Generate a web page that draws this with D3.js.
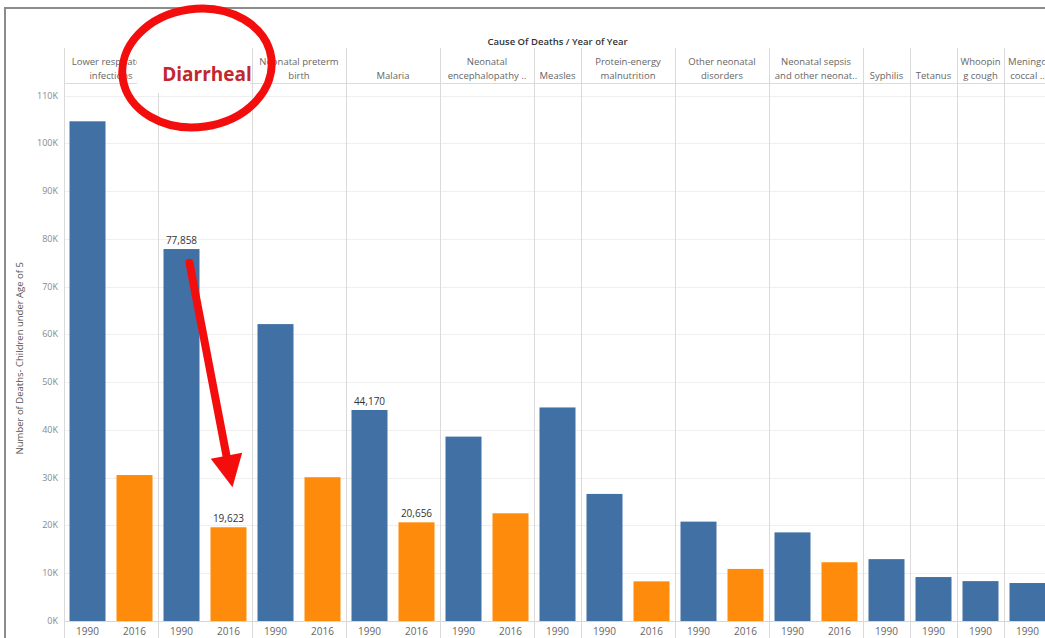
<!DOCTYPE html>
<html>
<head>
<meta charset="utf-8">
<script src="https://cdn.jsdelivr.net/npm/d3@7"></script>
<style>
  html, body { margin: 0; padding: 0; background: #fff; }
  svg { display: block; font-family: "Open Sans", "DejaVu Sans", sans-serif; }
</style>
</head>
<body>
<div id="chart"></div>
<script>
// cause of death, header lines as shown in the Tableau pane headers
var causes = [
  "Lower respiratory infections", "Diarrheal", "Neonatal preterm birth", "Malaria",
  "Neonatal encephalopathy", "Measles", "Protein-energy malnutrition",
  "Other neonatal disorders", "Neonatal sepsis and other neonatal", "Syphilis",
  "Tetanus", "Whooping cough", "Meningococcal"
];
var headerLines = [
  ["Lower respiratory", "infections"], [""], ["Neonatal preterm", "birth"], ["Malaria"],
  ["Neonatal", "encephalopathy .."], ["Measles"], ["Protein-energy", "malnutrition"],
  ["Other neonatal", "disorders"], ["Neonatal sepsis", "and other neonat.."], ["Syphilis"],
  ["Tetanus"], ["Whoopin", "g cough"], ["Meningo", "coccal .."]
];
var years = ["1990", "2016"];
var deaths1990 = [104600, 77858, 62150, 44170, 38600, 44700, 26600, 20800, 18550, 12950, 9200, 8350, 7950];
var deaths2016 = [30550, 19623, 30100, 20656, 22550, null, 8300, 10900, 12300, null, null, null, null];
var labelled = ["Diarrheal", "Malaria"];
var yTicks = [0, 10000, 20000, 30000, 40000, 50000, 60000, 70000, 80000, 90000, 100000, 110000];

var width = 1045, height = 638;
var plotLeft = 64, slotWidth = 47, yZero = 621, yTop = 95.5;
var blue = "#4170a4", orange = "#ff8b0c";

// one entry per bar, in the order Tableau lays them out
var bars = [];
causes.forEach(function (cause, i) {
  [deaths1990[i], deaths2016[i]].forEach(function (v, j) {
    if (v != null) bars.push({ cause: cause, year: years[j], value: v, key: cause + "|" + years[j] });
  });
});

var svg = d3.select("#chart").append("svg").attr("width", width).attr("height", height);

var x = d3.scaleBand()
  .domain(bars.map(function (d) { return d.key; }))
  .range([plotLeft, plotLeft + bars.length * slotWidth])
  .paddingInner(0.234)
  .paddingOuter(0.117);
var y = d3.scaleLinear().domain([0, 110000]).range([yZero, yTop]);

// pane extents per cause
var panes = causes.map(function (cause, i) {
  var own = bars.filter(function (b) { return b.cause === cause; });
  var x0 = x(own[0].key) - x.step() * x.paddingOuter();
  return { cause: cause, lines: headerLines[i], x0: x0, x1: x0 + own.length * x.step() };
});

// frame
svg.append("rect").attr("x", 5).attr("y", 8).attr("width", width + 20).attr("height", height + 20)
  .attr("fill", "none").attr("stroke", "#8c8c8c").attr("stroke-width", 2);

// gridlines
svg.append("g").selectAll("line").data(yTicks.slice(1)).enter().append("line")
  .attr("x1", plotLeft).attr("x2", width)
  .attr("y1", function (d) { return Math.round(y(d)) + 0.5; })
  .attr("y2", function (d) { return Math.round(y(d)) + 0.5; })
  .attr("stroke", "#efefef");

// header separator and baseline
svg.append("line").attr("x1", plotLeft).attr("x2", width).attr("y1", 83.5).attr("y2", 83.5).attr("stroke", "#dcdcdc");
svg.append("line").attr("x1", plotLeft).attr("x2", width).attr("y1", yZero + 0.5).attr("y2", yZero + 0.5).attr("stroke", "#d6d6d6");

// pane separators
var seps = [plotLeft].concat(panes.map(function (p) { return p.x1; }));
svg.append("g").selectAll("line").data(seps).enter().append("line")
  .attr("x1", function (d) { return Math.round(d) + 0.5; })
  .attr("x2", function (d) { return Math.round(d) + 0.5; })
  .attr("y1", 48).attr("y2", height)
  .attr("stroke", "#dadada");

// bars
svg.append("g").selectAll("rect").data(bars).enter().append("rect")
  .attr("x", function (d) { return x(d.key); })
  .attr("width", x.bandwidth())
  .attr("y", function (d) { return y(d.value); })
  .attr("height", function (d) { return yZero - y(d.value); })
  .attr("fill", function (d) { return d.year === "1990" ? blue : orange; });

// value labels
var fmt = d3.format(",");
svg.append("g").selectAll("text")
  .data(bars.filter(function (d) { return labelled.indexOf(d.cause) >= 0; }))
  .enter().append("text")
  .attr("x", function (d) { return x(d.key) + x.bandwidth() / 2; })
  .attr("y", function (d) { return y(d.value) - 5; })
  .attr("text-anchor", "middle").attr("font-size", 10).attr("fill", "#333")
  .text(function (d) { return fmt(d.value); });

// x labels
svg.append("g").selectAll("text").data(bars).enter().append("text")
  .attr("x", function (d) { return x(d.key) + x.bandwidth() / 2; })
  .attr("y", 635)
  .attr("text-anchor", "middle").attr("font-size", 10).attr("fill", "#666")
  .text(function (d) { return d.year; });

// y axis
svg.append("g").selectAll("text").data(yTicks).enter().append("text")
  .attr("x", 58).attr("y", function (d) { return y(d) + 3; })
  .attr("text-anchor", "end").attr("font-size", 9).attr("fill", "#888")
  .text(function (d) { return d / 1000 + "K"; });
svg.append("text")
  .attr("transform", "translate(23," + y(55000) + ") rotate(-90)")
  .attr("text-anchor", "middle").attr("font-size", 9.5).attr("fill", "#555")
  .text("Number of Deaths- Children under Age of 5");

// header
svg.append("text").attr("x", (plotLeft + panes[panes.length - 1].x1) / 2).attr("y", 45)
  .attr("text-anchor", "middle").attr("font-size", 9.5).attr("font-weight", 600).attr("fill", "#333")
  .text("Cause Of Deaths  /  Year of Year");
var heads = svg.append("g").selectAll("text").data(panes).enter().append("text")
  .attr("text-anchor", "middle").attr("font-size", 9.5).attr("fill", "#666");
heads.each(function (p) {
  var t = d3.select(this);
  var n = p.lines.length;
  p.lines.forEach(function (line, k) {
    t.append("tspan").attr("x", (p.x0 + p.x1) / 2).attr("y", 79 - (n - 1 - k) * 14).text(line);
  });
});

// annotation: highlight Diarrheal
var dPane = panes[1];
var cx = (dPane.x0 + dPane.x1) / 2;
svg.append("rect").attr("x", dPane.x0 - 21).attr("y", 44).attr("width", dPane.x1 - dPane.x0 + 19).attr("height", 49).attr("fill", "#fff");
svg.append("text").attr("x", cx + 2).attr("y", 81)
  .attr("text-anchor", "middle").attr("font-size", 19).attr("font-weight", "bold")
  .attr("fill", "#c4262e").text("Diarrheal");
svg.append("ellipse").attr("cx", cx - 8).attr("cy", 68).attr("rx", 75).attr("ry", 59)
  .attr("transform", "rotate(-8," + (cx - 8) + ",68)")
  .attr("fill", "none").attr("stroke", "#f40d0d").attr("stroke-width", 8);

// annotation: arrow from 1990 to 2016
var b90 = bars.filter(function (b) { return b.key === "Diarrheal|1990"; })[0];
var b16 = bars.filter(function (b) { return b.key === "Diarrheal|2016"; })[0];
var x0 = x(b90.key) + x.bandwidth() / 2 + 8, y0 = y(b90.value) + 14;
var x1 = x(b16.key) + x.bandwidth() / 2 + 4, y1 = y(b16.value) - 40;
var ang = Math.atan2(y1 - y0, x1 - x0);
var headLen = 32, headHalf = 16;
var bx = x1 - headLen * Math.cos(ang), by = y1 - headLen * Math.sin(ang);
svg.append("line").attr("x1", x0).attr("y1", y0).attr("x2", bx).attr("y2", by)
  .attr("stroke", "#f40d0d").attr("stroke-width", 8).attr("stroke-linecap", "round");
svg.append("path")
  .attr("d", "M" + x1 + "," + y1 +
    "L" + (bx + headHalf * Math.sin(ang)) + "," + (by - headHalf * Math.cos(ang)) +
    "L" + (bx - headHalf * Math.sin(ang)) + "," + (by + headHalf * Math.cos(ang)) + "Z")
  .attr("fill", "#f40d0d");
</script>
</body>
</html>
